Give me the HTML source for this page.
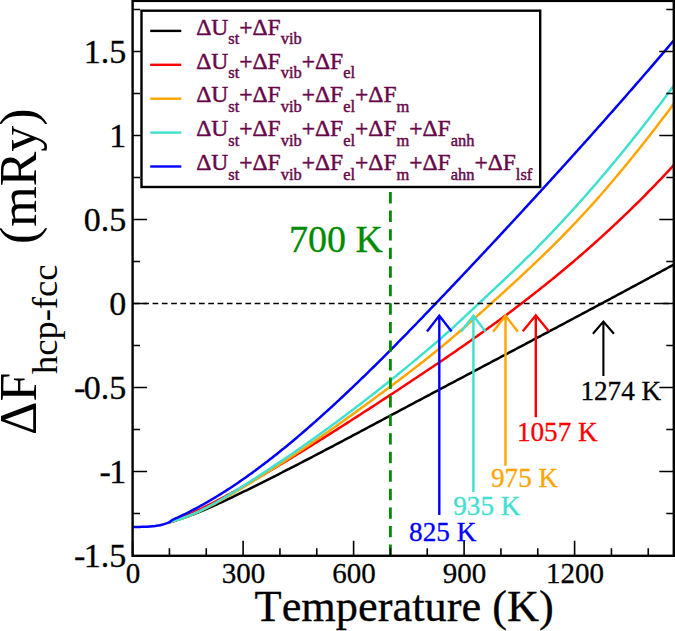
<!DOCTYPE html><html><head><meta charset="utf-8"><style>html,body{margin:0;padding:0;background:#fff;overflow:hidden;width:675px;height:631px;}svg{display:block;}text{font-family:"Liberation Serif",serif;font-kerning:none;font-feature-settings:"kern" 0;}</style></head><body>
<svg width="675" height="631" viewBox="0 0 675 631">
<rect x="0" y="0" width="675" height="631" fill="#fff"/>
<defs><clipPath id="pc"><rect x="132.6" y="0.9" width="541.2" height="554.9"/></clipPath></defs>
<g clip-path="url(#pc)" fill="none" stroke-width="2.50" stroke-linejoin="round" stroke-linecap="butt">
<path d="M169.40,522.20 L172.50,521.55 L174.00,521.09 L175.50,520.63 L177.00,520.16 L178.50,519.67 L180.00,519.18 L181.50,518.67 L183.00,518.16 L184.50,517.63 L186.00,517.10 L187.50,516.55 L189.00,516.00 L190.50,515.44 L192.00,514.87 L193.50,514.29 L195.00,513.71 L196.50,513.11 L198.00,512.51 L199.50,511.90 L201.00,511.29 L202.50,510.67 L204.00,510.04 L205.50,509.40 L207.00,508.76 L208.50,508.11 L210.00,507.45 L211.50,506.79 L213.00,506.13 L214.50,505.45 L216.00,504.78 L217.50,504.10 L219.00,503.41 L220.50,502.72 L222.00,502.02 L223.50,501.33 L225.00,500.62 L226.50,499.92 L228.00,499.21 L229.50,498.50 L231.00,497.78 L232.50,497.06 L234.00,496.34 L235.50,495.62 L237.00,494.89 L238.50,494.16 L240.00,493.44 L241.50,492.71 L243.00,491.97 L244.50,491.24 L246.00,490.51 L247.50,489.77 L249.00,489.03 L250.50,488.29 L252.00,487.56 L253.50,486.81 L255.00,486.07 L256.50,485.33 L258.00,484.58 L259.50,483.84 L261.00,483.09 L262.50,482.34 L264.00,481.59 L265.50,480.84 L267.00,480.09 L268.50,479.33 L270.00,478.58 L271.50,477.82 L273.00,477.06 L274.50,476.31 L276.00,475.55 L277.50,474.79 L279.00,474.03 L280.50,473.26 L282.00,472.50 L283.50,471.73 L285.00,470.97 L286.50,470.20 L288.00,469.44 L289.50,468.67 L291.00,467.90 L292.50,467.13 L294.00,466.36 L295.50,465.58 L297.00,464.81 L298.50,464.04 L300.00,463.26 L301.50,462.49 L303.00,461.71 L304.50,460.93 L306.00,460.15 L307.50,459.38 L309.00,458.60 L310.50,457.82 L312.00,457.03 L313.50,456.25 L315.00,455.47 L316.50,454.69 L318.00,453.90 L319.50,453.12 L321.00,452.33 L322.50,451.55 L324.00,450.76 L325.50,449.97 L327.00,449.19 L328.50,448.40 L330.00,447.61 L331.50,446.82 L333.00,446.03 L334.50,445.24 L336.00,444.45 L337.50,443.66 L339.00,442.87 L340.50,442.07 L342.00,441.28 L343.50,440.49 L345.00,439.69 L346.50,438.90 L348.00,438.11 L349.50,437.31 L351.00,436.52 L352.50,435.72 L354.00,434.93 L355.50,434.13 L357.00,433.33 L358.50,432.54 L360.00,431.74 L361.50,430.94 L363.00,430.15 L364.50,429.35 L366.00,428.55 L367.50,427.75 L369.00,426.96 L370.50,426.16 L372.00,425.36 L373.50,424.56 L375.00,423.76 L376.50,422.96 L378.00,422.17 L379.50,421.37 L381.00,420.57 L382.50,419.77 L384.00,418.97 L385.50,418.17 L387.00,417.37 L388.50,416.57 L390.00,415.77 L391.50,414.98 L393.00,414.18 L394.50,413.38 L396.00,412.58 L397.50,411.78 L399.00,410.98 L400.50,410.19 L402.00,409.39 L403.50,408.59 L405.00,407.79 L406.50,407.00 L408.00,406.20 L409.50,405.40 L411.00,404.60 L412.50,403.81 L414.00,403.01 L415.50,402.21 L417.00,401.42 L418.50,400.62 L420.00,399.83 L421.50,399.03 L423.00,398.23 L424.50,397.44 L426.00,396.64 L427.50,395.85 L429.00,395.05 L430.50,394.26 L432.00,393.46 L433.50,392.67 L435.00,391.87 L436.50,391.08 L438.00,390.28 L439.50,389.49 L441.00,388.69 L442.50,387.90 L444.00,387.10 L445.50,386.31 L447.00,385.51 L448.50,384.72 L450.00,383.92 L451.50,383.13 L453.00,382.34 L454.50,381.54 L456.00,380.75 L457.50,379.95 L459.00,379.16 L460.50,378.37 L462.00,377.57 L463.50,376.78 L465.00,375.99 L466.50,375.19 L468.00,374.40 L469.50,373.60 L471.00,372.81 L472.50,372.02 L474.00,371.22 L475.50,370.43 L477.00,369.64 L478.50,368.84 L480.00,368.05 L481.50,367.26 L483.00,366.46 L484.50,365.67 L486.00,364.88 L487.50,364.08 L489.00,363.29 L490.50,362.50 L492.00,361.70 L493.50,360.91 L495.00,360.11 L496.50,359.32 L498.00,358.53 L499.50,357.73 L501.00,356.94 L502.50,356.15 L504.00,355.35 L505.50,354.56 L507.00,353.77 L508.50,352.97 L510.00,352.18 L511.50,351.38 L513.00,350.59 L514.50,349.80 L516.00,349.00 L517.50,348.21 L519.00,347.41 L520.50,346.62 L522.00,345.83 L523.50,345.03 L525.00,344.24 L526.50,343.44 L528.00,342.65 L529.50,341.85 L531.00,341.06 L532.50,340.26 L534.00,339.47 L535.50,338.67 L537.00,337.88 L538.50,337.08 L540.00,336.29 L541.50,335.49 L543.00,334.70 L544.50,333.90 L546.00,333.10 L547.50,332.31 L549.00,331.51 L550.50,330.72 L552.00,329.92 L553.50,329.12 L555.00,328.33 L556.50,327.53 L558.00,326.73 L559.50,325.94 L561.00,325.14 L562.50,324.34 L564.00,323.54 L565.50,322.75 L567.00,321.95 L568.50,321.15 L570.00,320.35 L571.50,319.55 L573.00,318.76 L574.50,317.96 L576.00,317.16 L577.50,316.36 L579.00,315.56 L580.50,314.76 L582.00,313.96 L583.50,313.16 L585.00,312.36 L586.50,311.56 L588.00,310.76 L589.50,309.96 L591.00,309.16 L592.50,308.36 L594.00,307.56 L595.50,306.76 L597.00,305.96 L598.50,305.16 L600.00,304.35 L601.50,303.55 L603.00,302.75 L604.50,301.95 L606.00,301.14 L607.50,300.34 L609.00,299.54 L610.50,298.73 L612.00,297.93 L613.50,297.13 L615.00,296.32 L616.50,295.52 L618.00,294.71 L619.50,293.91 L621.00,293.10 L622.50,292.30 L624.00,291.49 L625.50,290.69 L627.00,289.88 L628.50,289.07 L630.00,288.27 L631.50,287.46 L633.00,286.65 L634.50,285.84 L636.00,285.04 L637.50,284.23 L639.00,283.42 L640.50,282.61 L642.00,281.80 L643.50,280.99 L645.00,280.18 L646.50,279.37 L648.00,278.56 L649.50,277.75 L651.00,276.94 L652.50,276.13 L654.00,275.32 L655.50,274.50 L657.00,273.69 L658.50,272.88 L660.00,272.07 L661.50,271.25 L663.00,270.44 L664.50,269.63 L666.00,268.81 L667.50,268.00 L669.00,267.18 L670.50,266.37 L672.00,265.55 L673.50,264.73 L675.00,263.92" stroke="#000000"/>
<path d="M169.40,522.20 L172.50,521.34 L174.00,520.75 L175.50,520.15 L177.00,519.54 L178.50,518.92 L180.00,518.30 L181.50,517.67 L183.00,517.03 L184.50,516.38 L186.00,515.72 L187.50,515.06 L189.00,514.39 L190.50,513.72 L192.00,513.03 L193.50,512.35 L195.00,511.65 L196.50,510.95 L198.00,510.24 L199.50,509.52 L201.00,508.80 L202.50,508.07 L204.00,507.34 L205.50,506.60 L207.00,505.85 L208.50,505.10 L210.00,504.35 L211.50,503.58 L213.00,502.82 L214.50,502.04 L216.00,501.27 L217.50,500.48 L219.00,499.70 L220.50,498.90 L222.00,498.11 L223.50,497.31 L225.00,496.50 L226.50,495.69 L228.00,494.87 L229.50,494.06 L231.00,493.23 L232.50,492.41 L234.00,491.57 L235.50,490.74 L237.00,489.90 L238.50,489.06 L240.00,488.22 L241.50,487.37 L243.00,486.52 L244.50,485.66 L246.00,484.81 L247.50,483.95 L249.00,483.08 L250.50,482.22 L252.00,481.35 L253.50,480.48 L255.00,479.61 L256.50,478.73 L258.00,477.86 L259.50,476.98 L261.00,476.10 L262.50,475.21 L264.00,474.33 L265.50,473.44 L267.00,472.56 L268.50,471.67 L270.00,470.78 L271.50,469.88 L273.00,468.99 L274.50,468.09 L276.00,467.19 L277.50,466.29 L279.00,465.39 L280.50,464.49 L282.00,463.59 L283.50,462.68 L285.00,461.77 L286.50,460.86 L288.00,459.95 L289.50,459.04 L291.00,458.13 L292.50,457.21 L294.00,456.29 L295.50,455.37 L297.00,454.46 L298.50,453.53 L300.00,452.61 L301.50,451.69 L303.00,450.76 L304.50,449.83 L306.00,448.91 L307.50,447.98 L309.00,447.05 L310.50,446.11 L312.00,445.18 L313.50,444.24 L315.00,443.31 L316.50,442.37 L318.00,441.43 L319.50,440.49 L321.00,439.55 L322.50,438.61 L324.00,437.66 L325.50,436.72 L327.00,435.77 L328.50,434.82 L330.00,433.88 L331.50,432.93 L333.00,431.98 L334.50,431.02 L336.00,430.07 L337.50,429.12 L339.00,428.16 L340.50,427.21 L342.00,426.25 L343.50,425.29 L345.00,424.33 L346.50,423.37 L348.00,422.41 L349.50,421.45 L351.00,420.48 L352.50,419.52 L354.00,418.55 L355.50,417.59 L357.00,416.62 L358.50,415.65 L360.00,414.68 L361.50,413.72 L363.00,412.74 L364.50,411.77 L366.00,410.80 L367.50,409.83 L369.00,408.86 L370.50,407.88 L372.00,406.91 L373.50,405.93 L375.00,404.95 L376.50,403.98 L378.00,403.00 L379.50,402.02 L381.00,401.04 L382.50,400.06 L384.00,399.08 L385.50,398.10 L387.00,397.12 L388.50,396.13 L390.00,395.15 L391.50,394.17 L393.00,393.18 L394.50,392.20 L396.00,391.21 L397.50,390.23 L399.00,389.24 L400.50,388.25 L402.00,387.27 L403.50,386.28 L405.00,385.29 L406.50,384.30 L408.00,383.30 L409.50,382.31 L411.00,381.32 L412.50,380.32 L414.00,379.33 L415.50,378.33 L417.00,377.33 L418.50,376.33 L420.00,375.33 L421.50,374.33 L423.00,373.33 L424.50,372.33 L426.00,371.32 L427.50,370.32 L429.00,369.31 L430.50,368.30 L432.00,367.29 L433.50,366.28 L435.00,365.27 L436.50,364.25 L438.00,363.24 L439.50,362.22 L441.00,361.20 L442.50,360.18 L444.00,359.16 L445.50,358.14 L447.00,357.11 L448.50,356.08 L450.00,355.05 L451.50,354.02 L453.00,352.99 L454.50,351.96 L456.00,350.92 L457.50,349.88 L459.00,348.84 L460.50,347.80 L462.00,346.76 L463.50,345.71 L465.00,344.66 L466.50,343.61 L468.00,342.56 L469.50,341.51 L471.00,340.45 L472.50,339.39 L474.00,338.33 L475.50,337.27 L477.00,336.21 L478.50,335.14 L480.00,334.07 L481.50,333.00 L483.00,331.92 L484.50,330.85 L486.00,329.77 L487.50,328.68 L489.00,327.60 L490.50,326.51 L492.00,325.42 L493.50,324.33 L495.00,323.24 L496.50,322.14 L498.00,321.04 L499.50,319.94 L501.00,318.83 L502.50,317.72 L504.00,316.61 L505.50,315.50 L507.00,314.38 L508.50,313.26 L510.00,312.14 L511.50,311.01 L513.00,309.88 L514.50,308.75 L516.00,307.62 L517.50,306.48 L519.00,305.34 L520.50,304.19 L522.00,303.05 L523.50,301.89 L525.00,300.74 L526.50,299.58 L528.00,298.42 L529.50,297.26 L531.00,296.09 L532.50,294.92 L534.00,293.75 L535.50,292.57 L537.00,291.39 L538.50,290.21 L540.00,289.02 L541.50,287.83 L543.00,286.63 L544.50,285.43 L546.00,284.23 L547.50,283.02 L549.00,281.81 L550.50,280.60 L552.00,279.38 L553.50,278.16 L555.00,276.94 L556.50,275.71 L558.00,274.48 L559.50,273.24 L561.00,272.00 L562.50,270.75 L564.00,269.51 L565.50,268.25 L567.00,267.00 L568.50,265.73 L570.00,264.47 L571.50,263.20 L573.00,261.93 L574.50,260.65 L576.00,259.37 L577.50,258.08 L579.00,256.79 L580.50,255.50 L582.00,254.20 L583.50,252.89 L585.00,251.58 L586.50,250.27 L588.00,248.95 L589.50,247.63 L591.00,246.31 L592.50,244.98 L594.00,243.64 L595.50,242.30 L597.00,240.96 L598.50,239.61 L600.00,238.25 L601.50,236.89 L603.00,235.53 L604.50,234.16 L606.00,232.79 L607.50,231.41 L609.00,230.02 L610.50,228.64 L612.00,227.24 L613.50,225.84 L615.00,224.44 L616.50,223.03 L618.00,221.62 L619.50,220.20 L621.00,218.78 L622.50,217.35 L624.00,215.91 L625.50,214.47 L627.00,213.03 L628.50,211.58 L630.00,210.12 L631.50,208.66 L633.00,207.20 L634.50,205.72 L636.00,204.25 L637.50,202.76 L639.00,201.27 L640.50,199.78 L642.00,198.28 L643.50,196.78 L645.00,195.27 L646.50,193.75 L648.00,192.23 L649.50,190.70 L651.00,189.17 L652.50,187.63 L654.00,186.08 L655.50,184.53 L657.00,182.97 L658.50,181.41 L660.00,179.84 L661.50,178.27 L663.00,176.68 L664.50,175.10 L666.00,173.50 L667.50,171.91 L669.00,170.30 L670.50,168.69 L672.00,167.07 L673.50,165.45 L675.00,163.82" stroke="#ff0000"/>
<path d="M169.40,522.20 L172.50,521.40 L174.00,520.99 L175.50,520.56 L177.00,520.11 L178.50,519.64 L180.00,519.16 L181.50,518.65 L183.00,518.13 L184.50,517.60 L186.00,517.04 L187.50,516.47 L189.00,515.89 L190.50,515.29 L192.00,514.67 L193.50,514.04 L195.00,513.39 L196.50,512.73 L198.00,512.06 L199.50,511.37 L201.00,510.67 L202.50,509.96 L204.00,509.24 L205.50,508.50 L207.00,507.76 L208.50,507.00 L210.00,506.23 L211.50,505.45 L213.00,504.66 L214.50,503.87 L216.00,503.06 L217.50,502.24 L219.00,501.42 L220.50,500.59 L222.00,499.75 L223.50,498.90 L225.00,498.05 L226.50,497.19 L228.00,496.32 L229.50,495.45 L231.00,494.57 L232.50,493.69 L234.00,492.80 L235.50,491.91 L237.00,491.01 L238.50,490.12 L240.00,489.21 L241.50,488.31 L243.00,487.40 L244.50,486.49 L246.00,485.58 L247.50,484.67 L249.00,483.75 L250.50,482.83 L252.00,481.90 L253.50,480.98 L255.00,480.05 L256.50,479.12 L258.00,478.18 L259.50,477.25 L261.00,476.31 L262.50,475.37 L264.00,474.42 L265.50,473.48 L267.00,472.53 L268.50,471.57 L270.00,470.62 L271.50,469.66 L273.00,468.70 L274.50,467.74 L276.00,466.77 L277.50,465.81 L279.00,464.84 L280.50,463.86 L282.00,462.89 L283.50,461.91 L285.00,460.93 L286.50,459.95 L288.00,458.96 L289.50,457.98 L291.00,456.99 L292.50,455.99 L294.00,455.00 L295.50,454.00 L297.00,453.00 L298.50,452.00 L300.00,450.99 L301.50,449.99 L303.00,448.98 L304.50,447.96 L306.00,446.95 L307.50,445.93 L309.00,444.91 L310.50,443.89 L312.00,442.87 L313.50,441.84 L315.00,440.81 L316.50,439.78 L318.00,438.75 L319.50,437.71 L321.00,436.67 L322.50,435.63 L324.00,434.59 L325.50,433.55 L327.00,432.50 L328.50,431.45 L330.00,430.40 L331.50,429.34 L333.00,428.29 L334.50,427.23 L336.00,426.17 L337.50,425.11 L339.00,424.04 L340.50,422.97 L342.00,421.91 L343.50,420.84 L345.00,419.76 L346.50,418.69 L348.00,417.61 L349.50,416.54 L351.00,415.46 L352.50,414.37 L354.00,413.29 L355.50,412.21 L357.00,411.12 L358.50,410.03 L360.00,408.94 L361.50,407.85 L363.00,406.75 L364.50,405.66 L366.00,404.56 L367.50,403.46 L369.00,402.36 L370.50,401.26 L372.00,400.16 L373.50,399.06 L375.00,397.95 L376.50,396.84 L378.00,395.73 L379.50,394.62 L381.00,393.51 L382.50,392.40 L384.00,391.29 L385.50,390.17 L387.00,389.05 L388.50,387.94 L390.00,386.82 L391.50,385.70 L393.00,384.58 L394.50,383.45 L396.00,382.33 L397.50,381.20 L399.00,380.08 L400.50,378.95 L402.00,377.82 L403.50,376.68 L405.00,375.55 L406.50,374.41 L408.00,373.27 L409.50,372.12 L411.00,370.98 L412.50,369.83 L414.00,368.67 L415.50,367.52 L417.00,366.36 L418.50,365.19 L420.00,364.02 L421.50,362.85 L423.00,361.68 L424.50,360.50 L426.00,359.31 L427.50,358.13 L429.00,356.93 L430.50,355.74 L432.00,354.53 L433.50,353.33 L435.00,352.11 L436.50,350.90 L438.00,349.67 L439.50,348.44 L441.00,347.21 L442.50,345.97 L444.00,344.72 L445.50,343.47 L447.00,342.22 L448.50,340.95 L450.00,339.69 L451.50,338.42 L453.00,337.14 L454.50,335.86 L456.00,334.58 L457.50,333.29 L459.00,331.99 L460.50,330.69 L462.00,329.39 L463.50,328.09 L465.00,326.78 L466.50,325.47 L468.00,324.15 L469.50,322.83 L471.00,321.51 L472.50,320.18 L474.00,318.86 L475.50,317.53 L477.00,316.19 L478.50,314.86 L480.00,313.52 L481.50,312.18 L483.00,310.84 L484.50,309.49 L486.00,308.15 L487.50,306.80 L489.00,305.45 L490.50,304.10 L492.00,302.75 L493.50,301.40 L495.00,300.04 L496.50,298.69 L498.00,297.33 L499.50,295.97 L501.00,294.61 L502.50,293.25 L504.00,291.88 L505.50,290.52 L507.00,289.15 L508.50,287.78 L510.00,286.41 L511.50,285.03 L513.00,283.65 L514.50,282.27 L516.00,280.89 L517.50,279.50 L519.00,278.11 L520.50,276.72 L522.00,275.32 L523.50,273.92 L525.00,272.52 L526.50,271.11 L528.00,269.70 L529.50,268.29 L531.00,266.87 L532.50,265.45 L534.00,264.02 L535.50,262.59 L537.00,261.16 L538.50,259.72 L540.00,258.28 L541.50,256.83 L543.00,255.38 L544.50,253.92 L546.00,252.46 L547.50,250.99 L549.00,249.52 L550.50,248.04 L552.00,246.56 L553.50,245.07 L555.00,243.58 L556.50,242.08 L558.00,240.58 L559.50,239.07 L561.00,237.55 L562.50,236.03 L564.00,234.50 L565.50,232.96 L567.00,231.42 L568.50,229.88 L570.00,228.32 L571.50,226.76 L573.00,225.19 L574.50,223.62 L576.00,222.04 L577.50,220.45 L579.00,218.85 L580.50,217.25 L582.00,215.64 L583.50,214.02 L585.00,212.40 L586.50,210.76 L588.00,209.12 L589.50,207.47 L591.00,205.82 L592.50,204.15 L594.00,202.48 L595.50,200.80 L597.00,199.11 L598.50,197.41 L600.00,195.70 L601.50,193.99 L603.00,192.27 L604.50,190.54 L606.00,188.80 L607.50,187.06 L609.00,185.31 L610.50,183.55 L612.00,181.79 L613.50,180.02 L615.00,178.24 L616.50,176.46 L618.00,174.67 L619.50,172.87 L621.00,171.07 L622.50,169.26 L624.00,167.45 L625.50,165.63 L627.00,163.80 L628.50,161.97 L630.00,160.13 L631.50,158.29 L633.00,156.44 L634.50,154.58 L636.00,152.72 L637.50,150.85 L639.00,148.98 L640.50,147.10 L642.00,145.21 L643.50,143.32 L645.00,141.42 L646.50,139.51 L648.00,137.60 L649.50,135.68 L651.00,133.76 L652.50,131.82 L654.00,129.89 L655.50,127.94 L657.00,125.99 L658.50,124.03 L660.00,122.07 L661.50,120.10 L663.00,118.12 L664.50,116.14 L666.00,114.15 L667.50,112.15 L669.00,110.14 L670.50,108.13 L672.00,106.12 L673.50,104.09 L675.00,102.06" stroke="#ffa500"/>
<path d="M169.40,522.20 L172.50,521.20 L174.00,520.80 L175.50,520.39 L177.00,519.95 L178.50,519.49 L180.00,519.01 L181.50,518.52 L183.00,518.00 L184.50,517.46 L186.00,516.90 L187.50,516.33 L189.00,515.73 L190.50,515.12 L192.00,514.50 L193.50,513.85 L195.00,513.19 L196.50,512.51 L198.00,511.82 L199.50,511.12 L201.00,510.40 L202.50,509.66 L204.00,508.91 L205.50,508.15 L207.00,507.38 L208.50,506.59 L210.00,505.79 L211.50,504.98 L213.00,504.16 L214.50,503.33 L216.00,502.49 L217.50,501.64 L219.00,500.78 L220.50,499.91 L222.00,499.03 L223.50,498.15 L225.00,497.26 L226.50,496.36 L228.00,495.45 L229.50,494.54 L231.00,493.62 L232.50,492.70 L234.00,491.77 L235.50,490.84 L237.00,489.90 L238.50,488.97 L240.00,488.02 L241.50,487.08 L243.00,486.13 L244.50,485.18 L246.00,484.23 L247.50,483.28 L249.00,482.32 L250.50,481.36 L252.00,480.40 L253.50,479.43 L255.00,478.46 L256.50,477.49 L258.00,476.52 L259.50,475.55 L261.00,474.57 L262.50,473.59 L264.00,472.61 L265.50,471.62 L267.00,470.63 L268.50,469.64 L270.00,468.65 L271.50,467.65 L273.00,466.65 L274.50,465.65 L276.00,464.65 L277.50,463.64 L279.00,462.64 L280.50,461.63 L282.00,460.61 L283.50,459.60 L285.00,458.58 L286.50,457.55 L288.00,456.53 L289.50,455.50 L291.00,454.48 L292.50,453.44 L294.00,452.41 L295.50,451.37 L297.00,450.33 L298.50,449.29 L300.00,448.25 L301.50,447.20 L303.00,446.15 L304.50,445.10 L306.00,444.04 L307.50,442.98 L309.00,441.92 L310.50,440.86 L312.00,439.79 L313.50,438.73 L315.00,437.66 L316.50,436.58 L318.00,435.51 L319.50,434.43 L321.00,433.35 L322.50,432.26 L324.00,431.18 L325.50,430.09 L327.00,429.00 L328.50,427.90 L330.00,426.80 L331.50,425.71 L333.00,424.60 L334.50,423.50 L336.00,422.39 L337.50,421.28 L339.00,420.17 L340.50,419.05 L342.00,417.94 L343.50,416.82 L345.00,415.69 L346.50,414.57 L348.00,413.44 L349.50,412.31 L351.00,411.17 L352.50,410.04 L354.00,408.90 L355.50,407.76 L357.00,406.61 L358.50,405.47 L360.00,404.32 L361.50,403.16 L363.00,402.01 L364.50,400.85 L366.00,399.69 L367.50,398.53 L369.00,397.36 L370.50,396.20 L372.00,395.02 L373.50,393.85 L375.00,392.68 L376.50,391.50 L378.00,390.32 L379.50,389.13 L381.00,387.95 L382.50,386.76 L384.00,385.56 L385.50,384.37 L387.00,383.17 L388.50,381.97 L390.00,380.77 L391.50,379.56 L393.00,378.36 L394.50,377.15 L396.00,375.93 L397.50,374.72 L399.00,373.50 L400.50,372.28 L402.00,371.05 L403.50,369.83 L405.00,368.60 L406.50,367.36 L408.00,366.13 L409.50,364.89 L411.00,363.65 L412.50,362.41 L414.00,361.16 L415.50,359.92 L417.00,358.67 L418.50,357.41 L420.00,356.16 L421.50,354.90 L423.00,353.63 L424.50,352.37 L426.00,351.10 L427.50,349.83 L429.00,348.56 L430.50,347.29 L432.00,346.01 L433.50,344.73 L435.00,343.45 L436.50,342.16 L438.00,340.87 L439.50,339.58 L441.00,338.27 L442.50,336.96 L444.00,335.64 L445.50,334.31 L447.00,332.98 L448.50,331.63 L450.00,330.28 L451.50,328.92 L453.00,327.55 L454.50,326.18 L456.00,324.80 L457.50,323.42 L459.00,322.03 L460.50,320.64 L462.00,319.25 L463.50,317.85 L465.00,316.45 L466.50,315.04 L468.00,313.64 L469.50,312.23 L471.00,310.82 L472.50,309.41 L474.00,308.00 L475.50,306.59 L477.00,305.18 L478.50,303.77 L480.00,302.36 L481.50,300.96 L483.00,299.55 L484.50,298.15 L486.00,296.74 L487.50,295.34 L489.00,293.93 L490.50,292.53 L492.00,291.12 L493.50,289.72 L495.00,288.31 L496.50,286.91 L498.00,285.50 L499.50,284.09 L501.00,282.68 L502.50,281.27 L504.00,279.85 L505.50,278.43 L507.00,277.01 L508.50,275.59 L510.00,274.17 L511.50,272.74 L513.00,271.31 L514.50,269.87 L516.00,268.43 L517.50,266.99 L519.00,265.54 L520.50,264.09 L522.00,262.63 L523.50,261.17 L525.00,259.70 L526.50,258.23 L528.00,256.75 L529.50,255.27 L531.00,253.78 L532.50,252.28 L534.00,250.78 L535.50,249.27 L537.00,247.76 L538.50,246.24 L540.00,244.71 L541.50,243.18 L543.00,241.64 L544.50,240.10 L546.00,238.55 L547.50,236.99 L549.00,235.43 L550.50,233.86 L552.00,232.29 L553.50,230.71 L555.00,229.13 L556.50,227.54 L558.00,225.94 L559.50,224.34 L561.00,222.73 L562.50,221.12 L564.00,219.50 L565.50,217.88 L567.00,216.25 L568.50,214.62 L570.00,212.97 L571.50,211.33 L573.00,209.68 L574.50,208.02 L576.00,206.36 L577.50,204.69 L579.00,203.02 L580.50,201.34 L582.00,199.65 L583.50,197.96 L585.00,196.27 L586.50,194.57 L588.00,192.86 L589.50,191.15 L591.00,189.43 L592.50,187.71 L594.00,185.98 L595.50,184.24 L597.00,182.50 L598.50,180.76 L600.00,179.01 L601.50,177.25 L603.00,175.49 L604.50,173.72 L606.00,171.95 L607.50,170.17 L609.00,168.38 L610.50,166.59 L612.00,164.79 L613.50,162.99 L615.00,161.18 L616.50,159.37 L618.00,157.55 L619.50,155.72 L621.00,153.89 L622.50,152.05 L624.00,150.21 L625.50,148.36 L627.00,146.50 L628.50,144.64 L630.00,142.77 L631.50,140.90 L633.00,139.02 L634.50,137.13 L636.00,135.24 L637.50,133.35 L639.00,131.44 L640.50,129.53 L642.00,127.62 L643.50,125.70 L645.00,123.77 L646.50,121.84 L648.00,119.90 L649.50,117.95 L651.00,116.00 L652.50,114.04 L654.00,112.08 L655.50,110.10 L657.00,108.13 L658.50,106.15 L660.00,104.16 L661.50,102.16 L663.00,100.16 L664.50,98.15 L666.00,96.14 L667.50,94.12 L669.00,92.09 L670.50,90.06 L672.00,88.02 L673.50,85.97 L675.00,83.92" stroke="#40e0d0"/>
<path d="M132.60,526.90 L134.10,526.90 L135.60,526.90 L137.10,526.90 L138.60,526.89 L140.10,526.88 L141.60,526.86 L143.10,526.84 L144.60,526.80 L146.10,526.75 L147.60,526.69 L149.10,526.60 L150.60,526.50 L152.10,526.37 L153.60,526.22 L155.10,526.04 L156.60,525.82 L158.10,525.57 L159.60,525.29 L161.10,524.95 L162.60,524.58 L164.10,524.15 L165.60,523.67 L167.10,523.14 L168.60,522.54 L169.40,522.20 L172.50,519.82 L174.00,519.16 L175.50,518.48 L177.00,517.80 L178.50,517.11 L180.00,516.41 L181.50,515.70 L183.00,514.98 L184.50,514.25 L186.00,513.51 L187.50,512.77 L189.00,512.01 L190.50,511.25 L192.00,510.48 L193.50,509.69 L195.00,508.90 L196.50,508.10 L198.00,507.30 L199.50,506.48 L201.00,505.66 L202.50,504.82 L204.00,503.98 L205.50,503.13 L207.00,502.27 L208.50,501.40 L210.00,500.53 L211.50,499.65 L213.00,498.76 L214.50,497.86 L216.00,496.95 L217.50,496.03 L219.00,495.11 L220.50,494.18 L222.00,493.24 L223.50,492.29 L225.00,491.34 L226.50,490.38 L228.00,489.41 L229.50,488.43 L231.00,487.44 L232.50,486.45 L234.00,485.45 L235.50,484.44 L237.00,483.43 L238.50,482.41 L240.00,481.38 L241.50,480.34 L243.00,479.30 L244.50,478.25 L246.00,477.19 L247.50,476.13 L249.00,475.06 L250.50,473.98 L252.00,472.89 L253.50,471.80 L255.00,470.70 L256.50,469.60 L258.00,468.49 L259.50,467.37 L261.00,466.24 L262.50,465.11 L264.00,463.98 L265.50,462.83 L267.00,461.68 L268.50,460.53 L270.00,459.36 L271.50,458.19 L273.00,457.02 L274.50,455.84 L276.00,454.65 L277.50,453.46 L279.00,452.26 L280.50,451.05 L282.00,449.84 L283.50,448.63 L285.00,447.41 L286.50,446.18 L288.00,444.94 L289.50,443.71 L291.00,442.46 L292.50,441.21 L294.00,439.96 L295.50,438.70 L297.00,437.43 L298.50,436.16 L300.00,434.88 L301.50,433.60 L303.00,432.32 L304.50,431.02 L306.00,429.73 L307.50,428.43 L309.00,427.12 L310.50,425.81 L312.00,424.49 L313.50,423.17 L315.00,421.85 L316.50,420.52 L318.00,419.18 L319.50,417.84 L321.00,416.50 L322.50,415.15 L324.00,413.80 L325.50,412.44 L327.00,411.08 L328.50,409.71 L330.00,408.35 L331.50,406.97 L333.00,405.59 L334.50,404.21 L336.00,402.83 L337.50,401.44 L339.00,400.04 L340.50,398.65 L342.00,397.24 L343.50,395.84 L345.00,394.43 L346.50,393.02 L348.00,391.60 L349.50,390.18 L351.00,388.76 L352.50,387.33 L354.00,385.90 L355.50,384.47 L357.00,383.03 L358.50,381.59 L360.00,380.14 L361.50,378.70 L363.00,377.24 L364.50,375.79 L366.00,374.33 L367.50,372.87 L369.00,371.41 L370.50,369.94 L372.00,368.47 L373.50,366.99 L375.00,365.52 L376.50,364.03 L378.00,362.55 L379.50,361.06 L381.00,359.57 L382.50,358.08 L384.00,356.59 L385.50,355.09 L387.00,353.58 L388.50,352.08 L390.00,350.57 L391.50,349.06 L393.00,347.55 L394.50,346.03 L396.00,344.51 L397.50,342.99 L399.00,341.47 L400.50,339.94 L402.00,338.41 L403.50,336.88 L405.00,335.35 L406.50,333.81 L408.00,332.27 L409.50,330.73 L411.00,329.19 L412.50,327.64 L414.00,326.10 L415.50,324.55 L417.00,323.00 L418.50,321.45 L420.00,319.89 L421.50,318.34 L423.00,316.78 L424.50,315.22 L426.00,313.66 L427.50,312.10 L429.00,310.53 L430.50,308.97 L432.00,307.40 L433.50,305.84 L435.00,304.27 L436.50,302.70 L438.00,301.13 L439.50,299.55 L441.00,297.98 L442.50,296.41 L444.00,294.83 L445.50,293.26 L447.00,291.68 L448.50,290.10 L450.00,288.52 L451.50,286.94 L453.00,285.36 L454.50,283.78 L456.00,282.19 L457.50,280.61 L459.00,279.02 L460.50,277.43 L462.00,275.85 L463.50,274.26 L465.00,272.67 L466.50,271.08 L468.00,269.48 L469.50,267.89 L471.00,266.30 L472.50,264.70 L474.00,263.10 L475.50,261.51 L477.00,259.91 L478.50,258.31 L480.00,256.71 L481.50,255.11 L483.00,253.50 L484.50,251.90 L486.00,250.30 L487.50,248.69 L489.00,247.08 L490.50,245.48 L492.00,243.87 L493.50,242.26 L495.00,240.65 L496.50,239.04 L498.00,237.42 L499.50,235.81 L501.00,234.19 L502.50,232.58 L504.00,230.96 L505.50,229.34 L507.00,227.72 L508.50,226.11 L510.00,224.48 L511.50,222.86 L513.00,221.24 L514.50,219.62 L516.00,217.99 L517.50,216.37 L519.00,214.74 L520.50,213.11 L522.00,211.48 L523.50,209.85 L525.00,208.22 L526.50,206.59 L528.00,204.96 L529.50,203.33 L531.00,201.69 L532.50,200.06 L534.00,198.42 L535.50,196.79 L537.00,195.15 L538.50,193.51 L540.00,191.87 L541.50,190.23 L543.00,188.59 L544.50,186.94 L546.00,185.30 L547.50,183.65 L549.00,182.01 L550.50,180.36 L552.00,178.71 L553.50,177.06 L555.00,175.41 L556.50,173.76 L558.00,172.11 L559.50,170.46 L561.00,168.80 L562.50,167.15 L564.00,165.49 L565.50,163.83 L567.00,162.17 L568.50,160.51 L570.00,158.85 L571.50,157.19 L573.00,155.52 L574.50,153.86 L576.00,152.19 L577.50,150.52 L579.00,148.85 L580.50,147.18 L582.00,145.51 L583.50,143.84 L585.00,142.17 L586.50,140.49 L588.00,138.81 L589.50,137.14 L591.00,135.46 L592.50,133.78 L594.00,132.09 L595.50,130.41 L597.00,128.73 L598.50,127.04 L600.00,125.35 L601.50,123.66 L603.00,121.97 L604.50,120.28 L606.00,118.59 L607.50,116.90 L609.00,115.20 L610.50,113.50 L612.00,111.80 L613.50,110.10 L615.00,108.40 L616.50,106.70 L618.00,104.99 L619.50,103.29 L621.00,101.58 L622.50,99.87 L624.00,98.16 L625.50,96.45 L627.00,94.73 L628.50,93.02 L630.00,91.30 L631.50,89.58 L633.00,87.86 L634.50,86.14 L636.00,84.41 L637.50,82.69 L639.00,80.96 L640.50,79.23 L642.00,77.50 L643.50,75.77 L645.00,74.04 L646.50,72.30 L648.00,70.56 L649.50,68.83 L651.00,67.09 L652.50,65.34 L654.00,63.60 L655.50,61.85 L657.00,60.11 L658.50,58.36 L660.00,56.60 L661.50,54.85 L663.00,53.10 L664.50,51.34 L666.00,49.58 L667.50,47.82 L669.00,46.06 L670.50,44.30 L672.00,42.53 L673.50,40.76 L675.00,38.99" stroke="#0000ff"/>
</g>
<line x1="134" y1="303.5" x2="672" y2="303.5" stroke="#000" stroke-width="1.4" stroke-dasharray="5.7 3.583"/>
<line x1="390.4" y1="555.9" x2="390.4" y2="192" stroke="#008b00" stroke-width="2.8" stroke-dasharray="11.4 7.15"/>
<rect x="132.60" y="0.90" width="541.20" height="554.90" fill="none" stroke="#000" stroke-width="2.40"/>
<path d="M132.60,555.80V540.80 M169.43,555.80V548.30 M206.27,555.80V548.30 M243.10,555.80V540.80 M279.93,555.80V548.30 M316.76,555.80V548.30 M353.60,555.80V540.80 M390.43,555.80V548.30 M427.26,555.80V548.30 M464.10,555.80V540.80 M500.93,555.80V548.30 M537.76,555.80V548.30 M574.60,555.80V540.80 M611.43,555.80V548.30 M648.26,555.80V548.30 M132.60,513.50H140.10 M673.80,513.50H666.30 M132.60,471.50H147.10 M673.80,471.50H659.30 M132.60,429.50H140.10 M673.80,429.50H666.30 M132.60,387.50H147.10 M673.80,387.50H659.30 M132.60,345.50H140.10 M673.80,345.50H666.30 M132.60,303.50H147.10 M673.80,303.50H659.30 M132.60,261.50H140.10 M673.80,261.50H666.30 M132.60,219.50H147.10 M673.80,219.50H659.30 M132.60,177.50H140.10 M673.80,177.50H666.30 M132.60,135.50H147.10 M673.80,135.50H659.30 M132.60,93.50H140.10 M673.80,93.50H666.30 M132.60,51.50H147.10 M673.80,51.50H659.30 M132.60,9.50H140.10 M673.80,9.50H666.30" stroke="#000" stroke-width="1.6" fill="none"/>
<text x="126.3" y="63.43" font-size="34.0" text-anchor="end" stroke="#000" stroke-width="0.3">1.5</text>
<text x="126.3" y="147.44" font-size="34.0" text-anchor="end" stroke="#000" stroke-width="0.3">1</text>
<text x="126.3" y="231.44" font-size="34.0" text-anchor="end" stroke="#000" stroke-width="0.3">0.5</text>
<text x="126.3" y="315.44" font-size="34.0" text-anchor="end" stroke="#000" stroke-width="0.3">0</text>
<text x="126.3" y="399.44" font-size="34.0" text-anchor="end" stroke="#000" stroke-width="0.3">-<tspan dx="-1.6">0.5</tspan></text>
<text x="126.3" y="483.44" font-size="34.0" text-anchor="end" stroke="#000" stroke-width="0.3">-<tspan dx="-1.6">1</tspan></text>
<text x="126.3" y="567.43" font-size="34.0" text-anchor="end" stroke="#000" stroke-width="0.3">-<tspan dx="-1.6">1.5</tspan></text>
<text x="133.10" y="583.0" font-size="29.0" text-anchor="middle" stroke="#000" stroke-width="0.3">0</text>
<text x="243.60" y="583.0" font-size="29.0" text-anchor="middle" stroke="#000" stroke-width="0.3">300</text>
<text x="354.10" y="583.0" font-size="29.0" text-anchor="middle" stroke="#000" stroke-width="0.3">600</text>
<text x="464.60" y="583.0" font-size="29.0" text-anchor="middle" stroke="#000" stroke-width="0.3">900</text>
<text x="575.10" y="583.0" font-size="29.0" text-anchor="middle" stroke="#000" stroke-width="0.3">1200</text>
<text x="254.6" y="621.3" font-size="44.35" stroke="#000" stroke-width="0.3">Temperature (K)</text>
<text transform="translate(35.6,434.9) rotate(-90)" font-size="52">ΔF</text>
<text transform="translate(56.5,374.0) rotate(-90)" font-size="36.5">hcp-fcc</text>
<text transform="translate(35.6,244.1) rotate(-90)" font-size="52">(mRy)</text>
<rect x="141.5" y="10.7" width="398.7" height="176.3" fill="#fff" stroke="#000" stroke-width="2.4"/>
<line x1="150.2" y1="30.90" x2="181.3" y2="30.90" stroke="#000000" stroke-width="2.4"/>
<text x="196.2" y="34.60" fill="#670748" stroke="#670748" stroke-width="0.45"><tspan font-size="23.5" dy="0">ΔU</tspan><tspan font-size="16.45" dy="9.5">st</tspan><tspan font-size="23.5" dy="-9.5">+ΔF</tspan><tspan font-size="16.45" dy="9.5">vib</tspan></text>
<line x1="150.2" y1="64.80" x2="181.3" y2="64.80" stroke="#ff0000" stroke-width="2.4"/>
<text x="196.2" y="68.50" fill="#670748" stroke="#670748" stroke-width="0.45"><tspan font-size="23.5" dy="0">ΔU</tspan><tspan font-size="16.45" dy="9.5">st</tspan><tspan font-size="23.5" dy="-9.5">+ΔF</tspan><tspan font-size="16.45" dy="9.5">vib</tspan><tspan font-size="23.5" dy="-9.5">+ΔF</tspan><tspan font-size="16.45" dy="9.5">el</tspan></text>
<line x1="150.2" y1="98.70" x2="181.3" y2="98.70" stroke="#ffa500" stroke-width="2.4"/>
<text x="196.2" y="102.40" fill="#670748" stroke="#670748" stroke-width="0.45"><tspan font-size="23.5" dy="0">ΔU</tspan><tspan font-size="16.45" dy="9.5">st</tspan><tspan font-size="23.5" dy="-9.5">+ΔF</tspan><tspan font-size="16.45" dy="9.5">vib</tspan><tspan font-size="23.5" dy="-9.5">+ΔF</tspan><tspan font-size="16.45" dy="9.5">el</tspan><tspan font-size="23.5" dy="-9.5">+ΔF</tspan><tspan font-size="16.45" dy="9.5">m</tspan></text>
<line x1="150.2" y1="132.60" x2="181.3" y2="132.60" stroke="#40e0d0" stroke-width="2.4"/>
<text x="196.2" y="136.30" fill="#670748" stroke="#670748" stroke-width="0.45"><tspan font-size="23.5" dy="0">ΔU</tspan><tspan font-size="16.45" dy="9.5">st</tspan><tspan font-size="23.5" dy="-9.5">+ΔF</tspan><tspan font-size="16.45" dy="9.5">vib</tspan><tspan font-size="23.5" dy="-9.5">+ΔF</tspan><tspan font-size="16.45" dy="9.5">el</tspan><tspan font-size="23.5" dy="-9.5">+ΔF</tspan><tspan font-size="16.45" dy="9.5">m</tspan><tspan font-size="23.5" dy="-9.5">+ΔF</tspan><tspan font-size="16.45" dy="9.5">anh</tspan></text>
<line x1="150.2" y1="166.50" x2="181.3" y2="166.50" stroke="#0000ff" stroke-width="2.4"/>
<text x="196.2" y="170.20" fill="#670748" stroke="#670748" stroke-width="0.45"><tspan font-size="23.5" dy="0">ΔU</tspan><tspan font-size="16.45" dy="9.5">st</tspan><tspan font-size="23.5" dy="-9.5">+ΔF</tspan><tspan font-size="16.45" dy="9.5">vib</tspan><tspan font-size="23.5" dy="-9.5">+ΔF</tspan><tspan font-size="16.45" dy="9.5">el</tspan><tspan font-size="23.5" dy="-9.5">+ΔF</tspan><tspan font-size="16.45" dy="9.5">m</tspan><tspan font-size="23.5" dy="-9.5">+ΔF</tspan><tspan font-size="16.45" dy="9.5">ahn</tspan><tspan font-size="23.5" dy="-9.5">+ΔF</tspan><tspan font-size="16.45" dy="9.5">lsf</tspan></text>
<path d="M439.3,515.1 V315.6 M427.0,331.6 L439.3,315.6 L451.6,331.6" fill="none" stroke="#0000ff" stroke-width="2.4" stroke-linejoin="miter" stroke-linecap="butt"/>
<path d="M473.4,492.0 V315.8 M461.09999999999997,331.8 L473.4,315.8 L485.7,331.8" fill="none" stroke="#40e0d0" stroke-width="2.4" stroke-linejoin="miter" stroke-linecap="butt"/>
<path d="M505.5,465.8 V315.7 M493.1,331.7 L505.5,315.7 L517.9,331.7" fill="none" stroke="#ffa500" stroke-width="2.4" stroke-linejoin="miter" stroke-linecap="butt"/>
<path d="M535.8,417.3 V315.3 M522.8,331.3 L535.8,315.3 L548.8,331.3" fill="none" stroke="#ff0000" stroke-width="2.4" stroke-linejoin="miter" stroke-linecap="butt"/>
<path d="M603.4,376.0 V321.5 M592.9,333.8 L603.4,321.5 L613.9,333.8" fill="none" stroke="#000000" stroke-width="2.1" stroke-linejoin="miter" stroke-linecap="butt"/>
<text x="409.1" y="541" font-size="27.2" fill="#0000ff" stroke="#0000ff" stroke-width="0.3">825 K</text>
<text x="453.2" y="515.1" font-size="27.2" fill="#40e0d0" stroke="#40e0d0" stroke-width="0.3">935 K</text>
<text x="491.0" y="487.3" font-size="27.2" fill="#ffa500" stroke="#ffa500" stroke-width="0.3">975 K</text>
<text x="516.9" y="440.9" font-size="27.2" fill="#ff0000" stroke="#ff0000" stroke-width="0.3">1057 K</text>
<text x="580.4" y="400.2" font-size="27.2" fill="#000000" stroke="#000000" stroke-width="0.3">1274 K</text>
<text x="289.1" y="252" font-size="38" fill="#008b00" stroke="#008b00" stroke-width="0.3">700 K</text>
</svg></body></html>
